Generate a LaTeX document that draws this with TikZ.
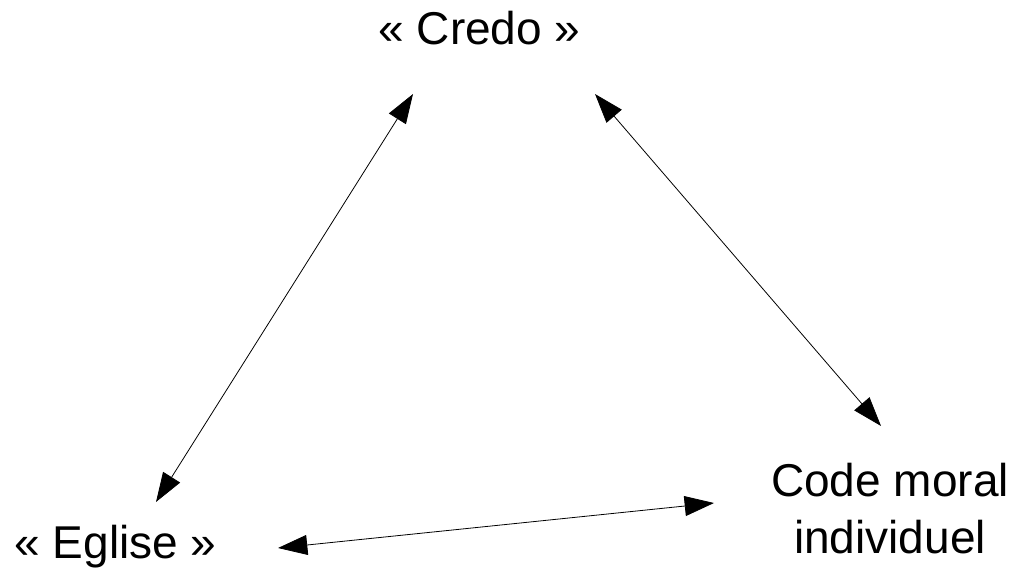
\documentclass[tikz,border=0pt]{standalone}
\usepackage{fontspec}
\setmainfont{Liberation Sans}
\usetikzlibrary{arrows.meta}

\begin{document}
\begin{tikzpicture}[
    x=0.75pt, y=-0.75pt,
    term/.style={inner sep=0pt, align=center, anchor=base, font=\fontsize{34.5pt}{42.75pt}\selectfont},
    link/.style={{Triangle[length=22pt, width=15pt]}-{Triangle[length=22pt, width=15pt]}, line width=0.6pt, color=black}
  ]
  \useasboundingbox (0,0) rectangle (1016,567);

  \node[term] (credo) at (479.5,45) {« Credo »};
  \node[term] (eglise) at (115.5,558) {« Eglise »};
  \node[term] (code) at (890,553) {Code moral\\individuel};

  \draw[link] ([shift={(-66.5,49)}]credo.base) -- ([shift={(40.5,-56)}]eglise.base);
  \draw[link] ([shift={(115.5,49)}]credo.base) -- ([shift={(-9,-127)}]code.base);
  \draw[link] ([shift={(162.5,-10)}]eglise.base) -- ([shift={(-176,-50)}]code.base);
\end{tikzpicture}
\end{document}
